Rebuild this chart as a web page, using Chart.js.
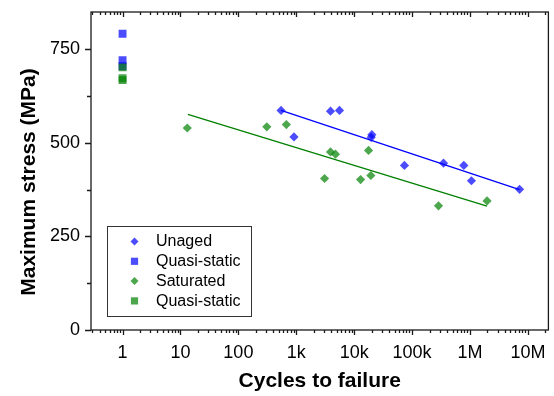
<!DOCTYPE html>
<html>
<head>
<meta charset="utf-8">
<script src="https://cdn.jsdelivr.net/npm/chart.js@4.4.1/dist/chart.umd.min.js"></script>
<style>
  html, body { margin: 0; padding: 0; background: #fff; }
  #wrap { width: 554px; height: 396px; }
</style>
</head>
<body>
<div id="wrap"><canvas id="chart" width="554" height="396"></canvas></div>
<script>
// fatigue data, unaged specimens
const unagedCycles = [546, 913, 3900, 5570, 19700, 20200, 73800, 349000, 782000, 1060000, 7180000];
const unagedStress = [587, 516, 585, 587, 515, 522, 440, 446, 440, 399, 376];

// saturated specimens
const satCycles = [13.1, 310, 674, 3080, 3900, 4750, 12900, 17700, 19400, 286000, 1970000];
const satStress = [540, 543, 549, 405, 476, 470, 402, 480, 413, 332, 345];

// quasi-static tests, plotted at 1 cycle
const qsUnagedCycles = [1, 1, 1];
const qsUnagedStress = [792, 721, 705];
const qsSatCycles = [1, 1, 1];
const qsSatStress = [702, 673, 668];

// trend line end points
const unagedFitCycles = [546, 7180000];
const unagedFitStress = [587, 375.5];
const satFitCycles = [13.4, 1970000];
const satFitStress = [576.5, 331];

const xTickValues = [1, 10, 100, 1000, 10000, 100000, 1000000, 10000000];
const xTickLabels = ['1', '10', '100', '1k', '10k', '100k', '1M', '10M'];
const yTickValues = [0, 250, 500, 750];
const legendLabels = ['Unaged', 'Quasi-static', 'Saturated', 'Quasi-static'];
const yTitle = 'Maximum stress (MPa)';

const FONT = "'Liberation Sans', Arial, sans-serif";
const blueFill = 'rgba(0, 0, 255, 0.7)';
const greenFill = 'rgba(0, 128, 0, 0.7)';

function pts(xs, ys) {
    return xs.map((x, i) => ({ x: x, y: ys[i] }));
}

// box frame + log minor ticks, placed with the chart scales
const framePlugin = {
    id: 'frame',
    beforeDatasetsDraw(chart) {
        const { ctx, chartArea: a, scales: { x, y } } = chart;
        ctx.save();
        ctx.strokeStyle = '#1a1a1a';
        ctx.lineWidth = 1.3;
        ctx.strokeRect(a.left, a.top, a.right - a.left, a.bottom - a.top);
        ctx.beginPath();
        for (let d = -1; d <= 7; d++) {
            for (let m = 1; m <= 9; m++) {
                const v = m * Math.pow(10, d);
                if (v < x.min || v > x.max) continue;
                const px = Math.round(x.getPixelForValue(v)) + 0.5;
                const len = m === 1 ? 5 : 3;
                ctx.moveTo(px, a.bottom);
                ctx.lineTo(px, a.bottom + len);
                ctx.moveTo(px, a.top);
                ctx.lineTo(px, a.top + len);
            }
        }
        for (let v = 0; v <= y.max; v += 125) {
            const py = Math.round(y.getPixelForValue(v)) + 0.5;
            const len = v % 250 === 0 ? 6 : 4;
            ctx.moveTo(a.left, py);
            ctx.lineTo(a.left - len, py);
        }
        ctx.stroke();

        // y title sits a bit below the plot centre in the original
        ctx.translate(29, (a.top + a.bottom) / 2 + 11);
        ctx.rotate(-Math.PI / 2);
        ctx.font = 'bold 21px ' + FONT;
        ctx.fillStyle = '#000';
        ctx.textAlign = 'center';
        ctx.textBaseline = 'middle';
        ctx.fillText(yTitle, 0, 0);
        ctx.restore();
    }
};

function drawMarker(ctx, style, cx, cy) {
    ctx.beginPath();
    if (style === 'rectRot') {
        const r = 4;
        ctx.moveTo(cx, cy - r);
        ctx.lineTo(cx + r, cy);
        ctx.lineTo(cx, cy + r);
        ctx.lineTo(cx - r, cy);
    } else {
        const h = 3.6;
        ctx.rect(cx - h, cy - h, 2 * h, 2 * h);
    }
    ctx.closePath();
    ctx.fill();
}

// legend box in lower left of the plot
const boxLegendPlugin = {
    id: 'boxLegend',
    afterDraw(chart) {
        const { ctx, chartArea: a } = chart;
        const left = a.left + 16, top = a.bottom - 104;
        const styles = ['rectRot', 'rect', 'rectRot', 'rect'];
        const colors = [blueFill, blueFill, greenFill, greenFill];
        ctx.save();
        ctx.fillStyle = '#fff';
        ctx.fillRect(left, top, 144, 90);
        ctx.strokeStyle = '#333';
        ctx.lineWidth = 1;
        ctx.strokeRect(left + 0.5, top + 0.5, 144, 90);
        ctx.font = '16px ' + FONT;
        ctx.textBaseline = 'middle';
        legendLabels.forEach((label, i) => {
            const cy = top + 15.5 + i * 19.8;
            ctx.fillStyle = colors[i];
            drawMarker(ctx, styles[i], left + 27.5, cy);
            ctx.fillStyle = '#000';
            ctx.fillText(label, left + 49, cy + 0.5);
        });
        ctx.restore();
    }
};

const data = {
    datasets: [
        {
            type: 'line',
            data: pts(unagedFitCycles, unagedFitStress),
            borderColor: '#0000ff',
            borderWidth: 1.3,
            pointRadius: 0,
            fill: false,
            order: 0
        },
        {
            type: 'line',
            data: pts(satFitCycles, satFitStress),
            borderColor: '#008000',
            borderWidth: 1.3,
            pointRadius: 0,
            fill: false,
            order: 1
        },
        {
            label: 'Quasi-static',
            data: pts(qsSatCycles, qsSatStress),
            pointStyle: 'rect',
            pointRadius: 5.6,
            backgroundColor: greenFill,
            borderWidth: 0,
            order: 2
        },
        {
            label: 'Quasi-static',
            data: pts(qsUnagedCycles, qsUnagedStress),
            pointStyle: 'rect',
            pointRadius: 5.6,
            backgroundColor: blueFill,
            borderWidth: 0,
            order: 3
        },
        {
            label: 'Saturated',
            data: pts(satCycles, satStress),
            pointStyle: 'rectRot',
            pointRadius: 4.6,
            backgroundColor: greenFill,
            borderWidth: 0,
            order: 4
        },
        {
            label: 'Unaged',
            data: pts(unagedCycles, unagedStress),
            pointStyle: 'rectRot',
            pointRadius: 4.6,
            backgroundColor: blueFill,
            borderWidth: 0,
            order: 5
        }
    ]
};

const config = {
    type: 'scatter',
    data: data,
    options: {
        responsive: false,
        animation: false,
        layout: { padding: { top: 12, right: 3, bottom: 0, left: 0 } },
        plugins: {
            legend: { display: false },
            tooltip: { enabled: false }
        },
        scales: {
            x: {
                type: 'logarithmic',
                min: 0.285,
                max: 2.26e7,
                grid: { display: false, drawTicks: false },
                border: { display: false },
                afterBuildTicks: (s) => { s.ticks = xTickValues.map(v => ({ value: v })); },
                afterFit: (s) => {
                    s.height = 66;
                    s.paddingLeft = 0;
                    s.paddingRight = 0;
                },
                ticks: {
                    autoSkip: false,
                    maxRotation: 0,
                    padding: 12,
                    color: '#000',
                    font: { family: FONT, size: 18 },
                    callback: (v) => {
                        const i = xTickValues.indexOf(v);
                        return i >= 0 ? xTickLabels[i] : '';
                    }
                },
                title: {
                    display: true,
                    text: 'Cycles to failure',
                    color: '#000',
                    font: { family: FONT, size: 21, weight: 'bold', lineHeight: 1.2 },
                    padding: { top: 0, bottom: 2 }
                }
            },
            y: {
                min: 0,
                max: 850,
                grid: { display: false, drawTicks: false },
                border: { display: false },
                afterBuildTicks: (s) => { s.ticks = yTickValues.map(v => ({ value: v })); },
                afterFit: (s) => {
                    s.width = 91;
                    s.paddingTop = 0;
                    s.paddingBottom = 0;
                },
                ticks: {
                    autoSkip: false,
                    padding: 11,
                    color: '#000',
                    font: { family: FONT, size: 18 }
                }
            }
        }
    },
    plugins: [framePlugin, boxLegendPlugin]
};

new Chart(document.getElementById('chart'), config);
</script>
</body>
</html>
